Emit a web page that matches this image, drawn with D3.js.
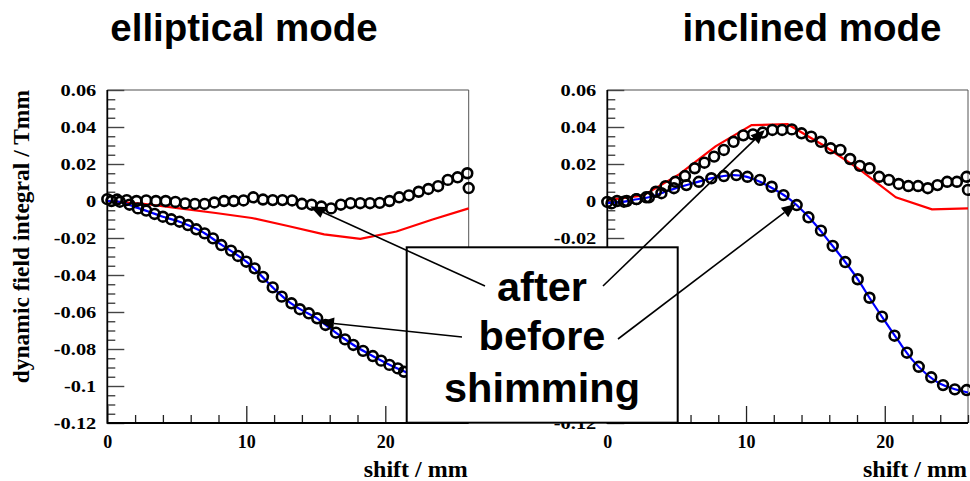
<!DOCTYPE html>
<html><head><meta charset="utf-8">
<script src="https://cdn.jsdelivr.net/npm/d3@7"></script>
<style>body{margin:0;background:#fff}svg{display:block}</style>
</head><body>
<svg id="c" width="970" height="481"></svg>
<script>
// ---- axis ticks ----
const xMajor = [0, 10, 20];
const xMinor = [2, 4, 6, 8, 12, 14, 16, 18, 22, 24, 26];
const yMajor = [0.06, 0.04, 0.02, 0, -0.02, -0.04, -0.06, -0.08, -0.1, -0.12];
const yMajorLabels = ["0.06", "0.04", "0.02", "0", "-0.02", "-0.04", "-0.06", "-0.08", "-0.1", "-0.12"];
const yMinor = [0.055, 0.05, 0.045, 0.035, 0.03, 0.025, 0.015, 0.01, 0.005, -0.005, -0.01, -0.015,
  -0.025, -0.03, -0.035, -0.045, -0.05, -0.055, -0.065, -0.07, -0.075, -0.085, -0.09, -0.095,
  -0.105, -0.11, -0.115];

// ---- elliptical mode ----
const ellCalcX = [0, 2.6, 5.2, 7.8, 10.4, 13, 15.6, 18.2, 20.8, 23.4, 26];
const ellCalcY = [0, -0.0015, -0.004, -0.0065, -0.0092, -0.0135, -0.018, -0.0205, -0.0165, -0.010, -0.004];

const ellAfterX = [0, 0.7, 1.4, 2.1, 2.8, 3.5, 4.2, 4.9, 5.6, 6.3, 7.0, 7.7, 8.4, 9.1, 9.8, 10.5, 11.2, 11.9, 12.6,
  13.3, 14.0, 14.7, 15.4, 16.1, 16.8, 17.5, 18.2, 18.9, 19.6, 20.3, 21.0, 21.7, 22.4, 23.1, 23.8, 24.5, 25.2, 25.9, 26];
const ellAfterY = [0.001, 0.0008, 0.0005, 0, 0.0003, 0, 0, -0.0005, -0.0013, -0.0016, -0.0016, -0.0008, 0, 0, 0.0003,
  0.002, 0.0008, 0.0005, 0.0005, 0.0003, -0.0015, -0.002, -0.003, -0.004, -0.002, -0.0012, -0.0012, -0.0012, -0.001,
  0, 0.002, 0.003, 0.005, 0.0065, 0.008, 0.0114, 0.0128, 0.015, 0.007];

const ellBeforeX = [0.3, 0.9, 1.6, 2.2, 2.8, 3.4, 4.0, 4.6, 5.2, 5.8, 6.4, 7.0, 7.6, 8.2, 8.9, 9.4, 10.0, 10.6, 11.2,
  11.9, 12.55, 13.25, 13.85, 14.5, 15.1, 15.7, 16.45, 17.1, 17.7, 18.4, 19.1, 19.7, 20.3, 20.9, 21.35, 22.0];
const ellBeforeY = [0, -0.0004, -0.002, -0.004, -0.0052, -0.007, -0.0085, -0.0099, -0.0112, -0.013, -0.0153, -0.0175,
  -0.0202, -0.0238, -0.0268, -0.0297, -0.0328, -0.0364, -0.041, -0.0467, -0.0517, -0.0553, -0.0585, -0.0607, -0.0634,
  -0.067, -0.0712, -0.0748, -0.0778, -0.081, -0.0838, -0.0863, -0.0886, -0.0905, -0.0923, -0.094];

const ellFitX = [0, 1, 2, 3, 4, 5, 6, 7, 8, 9, 10, 11, 12, 13, 14, 15, 16, 17, 18, 19, 20, 21, 22];
const ellFitY = [0, -0.0007, -0.0033, -0.0058, -0.0085, -0.0107, -0.0137, -0.0174, -0.0226, -0.0275, -0.0328, -0.0398,
  -0.0474, -0.0541, -0.059, -0.063, -0.0687, -0.0742, -0.0792, -0.0834, -0.0874, -0.0909, -0.094];

// ---- inclined mode ----
const incCalcX = [0, 2.6, 5.2, 7.8, 10.4, 13, 15.6, 18.2, 20.8, 23.4, 26];
const incCalcY = [0.0005, 0.003, 0.0145, 0.0295, 0.041, 0.0415, 0.030, 0.017, 0.002, -0.0045, -0.004];

const incAfterX = [0, 0.7, 1.4, 2.1, 2.8, 3.5, 4.2, 4.9, 5.6, 6.3, 7.0, 7.7, 8.4, 9.1, 9.8, 10.5, 11.2, 11.9, 12.6,
  13.3, 14.0, 14.7, 15.4, 16.1, 16.8, 17.5, 18.2, 18.9, 19.6, 20.3, 21.0, 21.7, 22.4, 23.1, 23.8, 24.5, 25.2, 25.9, 26];
const incAfterY = [-0.0005, 0, 0, 0.001, 0.002, 0.005, 0.008, 0.0104, 0.0135, 0.0177, 0.0207, 0.024, 0.0276, 0.032,
  0.0355, 0.036, 0.037, 0.0384, 0.0384, 0.0387, 0.0366, 0.0348, 0.032, 0.0285, 0.0276, 0.0227, 0.019, 0.0177, 0.0131,
  0.0114, 0.0092, 0.0081, 0.0081, 0.0069, 0.0086, 0.0104, 0.0104, 0.0131, 0.006];

const incBeforeX = [0.3, 1.2, 2.1, 3.0, 3.9, 4.8, 5.7, 6.6, 7.5, 8.4, 9.3, 10.1, 11.0, 11.85, 12.7, 13.65, 14.5, 15.4,
  16.25, 17.15, 18.05, 18.9, 19.8, 20.7, 21.6, 22.45, 23.35, 24.2, 25.05, 25.9];
const incBeforeY = [-0.0013, -0.0004, 0.001, 0.002, 0.0042, 0.0069, 0.0086, 0.0104, 0.0123, 0.0135, 0.014, 0.0131,
  0.0114, 0.0077, 0.0032, -0.0022, -0.0088, -0.016, -0.0243, -0.033, -0.0423, -0.0523, -0.0625, -0.0728, -0.082,
  -0.0896, -0.0953, -0.0995, -0.1018, -0.1022];

const incFitX = [0, 1, 2, 3, 4, 5, 6, 7, 8, 9, 10, 11, 12, 13, 14, 15, 16, 17, 18, 19, 20, 21, 22, 23, 24, 25, 26];
const incFitY = [-0.001, -0.0006, 0.0008, 0.002, 0.0045, 0.0071, 0.0092, 0.0113, 0.013, 0.014, 0.0132, 0.0104, 0.0065,
  0.0018, -0.0047, -0.0127, -0.022, -0.0315, -0.0417, -0.0535, -0.0648, -0.0758, -0.086, -0.0935, -0.0988, -0.1016,
  -0.1035];

const titles = ["elliptical mode", "inclined mode"];
const legendLines = ["after", "before", "shimming"];

// ---- drawing ----
const svg = d3.select("#c");
const serif = "'Liberation Serif','Times New Roman',serif";
const sans = "'Liberation Sans',Arial,Helvetica,sans-serif";
const yTop = 90, yBot = 423;
const box = { x: 406.7, y: 247.3, w: 271, h: 175.4 };

// the second pad's labels only show outside the legend box
svg.append("defs").append("clipPath").attr("id", "aboveBox")
  .append("rect").attr("x", 0).attr("y", 0).attr("width", 970).attr("height", box.y);

function zip(xs, ys) { return xs.map((x, i) => [x, ys[i]]); }

function panel(x0, x1, calc, fit, after, before, title, titleX, hiddenLabels) {
  const x = d3.scaleLinear().domain([0, 26]).range([x0, x1]);
  const y = d3.scaleLinear().domain([-0.12, 0.06]).range([yBot, yTop]);
  const g = svg.append("g");

  // frame
  g.append("line").attr("x1", x0).attr("x2", x1).attr("y1", yTop).attr("y2", yTop)
    .attr("stroke", "#8a8a8a").attr("stroke-width", 1.6);
  g.append("line").attr("x1", x1).attr("x2", x1).attr("y1", yTop).attr("y2", yBot)
    .attr("stroke", "#555").attr("stroke-width", 1);

  // y axis: minor and major ticks pointing inside
  const yMinAx = d3.axisLeft(y).tickValues(yMinor).tickSize(-8).tickSizeOuter(0).tickFormat("");
  const yMajAx = d3.axisLeft(y).tickValues(yMajor).tickSize(-17).tickSizeOuter(0).tickPadding(0)
    .tickFormat((d, i) => hiddenLabels.includes(i) ? "" : yMajorLabels[i]);
  const gyMin = g.append("g").attr("transform", `translate(${x0},0)`).call(yMinAx);
  const gyMaj = g.append("g").attr("transform", `translate(${x0},0)`).call(yMajAx);
  [gyMin, gyMaj].forEach(a => {
    a.select(".domain").remove();
    a.selectAll(".tick line").attr("stroke", "#444").attr("stroke-width", 1.4);
  });
  gyMaj.selectAll(".tick text")
    .attr("font-family", serif).attr("font-weight", "bold").attr("font-size", 17)
    .attr("fill", "#000").attr("x", 0).attr("dy", "0.34em")
    .attr("transform", "translate(-11,0) scale(1.2,1)");

  // x axis
  const xMinAx = d3.axisBottom(x).tickValues(xMinor).tickSize(-8).tickSizeOuter(0).tickFormat("");
  const xMajAx = d3.axisBottom(x).tickValues(xMajor).tickSize(-17).tickSizeOuter(0).tickPadding(0)
    .tickFormat(d3.format("d"));
  const gxMin = g.append("g").attr("transform", `translate(0,${yBot})`).call(xMinAx);
  const gxMaj = g.append("g").attr("transform", `translate(0,${yBot})`).call(xMajAx);
  [gxMin, gxMaj].forEach(a => {
    a.select(".domain").remove();
    a.selectAll(".tick line").attr("stroke", "#222").attr("stroke-width", 1.3);
  });
  gxMaj.selectAll(".tick text")
    .attr("font-family", serif).attr("font-weight", "bold").attr("font-size", 18)
    .attr("fill", "#000").attr("y", 24.5).attr("dy", 0);

  // axis lines
  g.append("line").attr("x1", x0).attr("x2", x0).attr("y1", yTop).attr("y2", yBot + 0.8)
    .attr("stroke", "#000").attr("stroke-width", 1.8);
  g.append("line").attr("x1", x0).attr("x2", x1).attr("y1", yBot).attr("y2", yBot)
    .attr("stroke", "#000").attr("stroke-width", 1.8);

  // axis titles
  const yt = g.append("text").attr("transform", `translate(${x0 - 78},${yTop}) rotate(-90)`)
    .attr("text-anchor", "end").attr("font-family", serif).attr("font-weight", "bold")
    .attr("font-size", 23.5).text("dynamic field integral / Tmm");
  if (hiddenLabels.length) yt.attr("clip-path", "url(#aboveBox)");
  g.append("text").attr("x", x1 - 1).attr("y", 477).attr("text-anchor", "end")
    .attr("font-family", serif).attr("font-weight", "bold").attr("font-size", 24).text("shift / mm");

  // curves
  const line = d3.line().x(d => x(d[0])).y(d => y(d[1]));
  g.append("path").attr("d", line(calc)).attr("fill", "none").attr("stroke", "#ff0000").attr("stroke-width", 2.2);
  g.append("path").attr("d", line.curve(d3.curveCatmullRom)(fit)).attr("fill", "none")
    .attr("stroke", "#0000ff").attr("stroke-width", 2.2);

  // measured points
  [after, before].forEach(s => {
    g.append("g").selectAll("circle").data(s).join("circle")
      .attr("cx", d => x(d[0])).attr("cy", d => y(d[1])).attr("r", 4.9)
      .attr("fill", "none").attr("stroke", "#000").attr("stroke-width", 2.6);
  });

  // title
  svg.append("text").attr("x", titleX).attr("y", 41).attr("text-anchor", "middle")
    .attr("font-family", sans).attr("font-weight", "bold").attr("font-size", 38.5).text(title);

  return { x, y };
}

const L = panel(107.3, 468.7, zip(ellCalcX, ellCalcY), zip(ellFitX, ellFitY),
  zip(ellAfterX, ellAfterY), zip(ellBeforeX, ellBeforeY), titles[0], 244, []);
const R = panel(607.3, 968, zip(incCalcX, incCalcY), zip(incFitX, incFitY),
  zip(incAfterX, incAfterY), zip(incBeforeX, incBeforeY), titles[1], 812, [5, 6, 7, 8]);

// legend box
svg.append("rect").attr("x", box.x).attr("y", box.y).attr("width", box.w).attr("height", box.h)
  .attr("fill", "#fff").attr("stroke", "#000").attr("stroke-width", 2);

const cx = 542;
const baselines = [301, 350, 402];

// arrows from the legend words to the curves
function arrow(x1, y1, x2, y2) {
  const a = Math.atan2(y2 - y1, x2 - x1), len = 14, hw = 6;
  const bx = x2 - len * Math.cos(a), by = y2 - len * Math.sin(a);
  svg.append("line").attr("x1", x1).attr("y1", y1).attr("x2", bx).attr("y2", by)
    .attr("stroke", "#000").attr("stroke-width", 1.6);
  const px = -Math.sin(a) * hw, py = Math.cos(a) * hw;
  svg.append("polygon")
    .attr("points", `${x2},${y2} ${bx + px},${by + py} ${bx - px},${by - py}`)
    .attr("fill", "#000");
}
arrow(cx - 57, baselines[0] - 15, L.x(14.6), L.y(-0.003));
arrow(cx - 80, baselines[1] - 13, L.x(15.3), L.y(-0.0654));
arrow(cx + 61, baselines[0] - 15, R.x(11.35), R.y(0.0384));
arrow(cx + 76, baselines[1] - 11, R.x(13.58), R.y(-0.0016));

svg.append("g").selectAll("text").data(legendLines).join("text")
  .attr("x", cx).attr("y", (d, i) => baselines[i]).attr("text-anchor", "middle")
  .attr("font-family", sans).attr("font-weight", "bold").attr("font-size", 41.5).text(d => d);
</script>
</body></html>
